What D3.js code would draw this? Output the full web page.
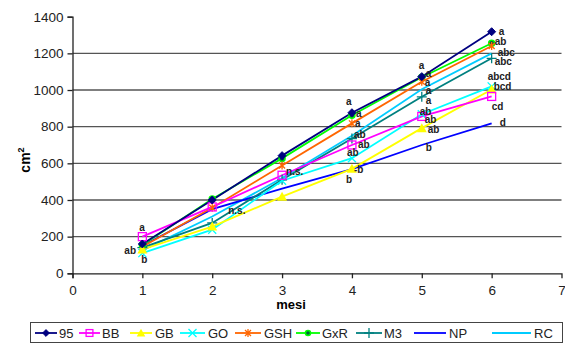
<!DOCTYPE html>
<html>
<head>
<meta charset="utf-8">
<script src="https://cdn.jsdelivr.net/npm/d3@7"></script>
<style>
body{margin:0;background:#fff;}
text{font-family:"Liberation Sans",Arial,sans-serif;}
</style>
</head>
<body>
<script>
var months = [1,2,3,4,5,6];
var names = ['95','BB','GB','GO','GSH','GxR','M3','NP','RC'];
var v95  = [160, 400, 642, 876, 1073, 1318];
var vBB  = [200, 362, 535, 700, 856, 965];
var vGB  = [130, 255, 418, 570, 792, 1003];
var vGO  = [110, 238, 505, 628, 868, 1020];
var vGSH = [145, 358, 588, 818, 1045, 1240];
var vGxR = [155, 405, 627, 862, 1070, 1255];
var vM3  = [140, 275, 510, 735, 963, 1173];
var vNP  = [150, 350, 462, 568, 700, 818];
var vRC  = [125, 310, 520, 750, 1004, 1200];
var xTicks = [0,1,2,3,4,5,6,7];
var yTicks = [0,200,400,600,800,1000,1200,1400];
// significance letters: series, month index, text, offset
var notes = [
  ['BB',0,'a',-3,-6],['95',0,'ab',-18,10],['GO',0,'b',-1,10],
  ['RC',1,'n.s.',16,-2],['BB',2,'n.s.',4,0],
  ['95',3,'a',-6,-8],['GxR',3,'a',4,2],['GSH',3,'a',3,4],['RC',3,'ab',2,2],
  ['BB',3,'ab',6,3],['GO',3,'ab',-5,-2],['NP',3,'-b',2,4],['GB',3,'b',-6,14],
  ['95',4,'a',-3,-8],['GxR',4,'a',4,0],['GSH',4,'a',3,4],['RC',4,'a',4,5],['M3',4,'a',4,7],
  ['BB',4,'ab',-2,-1],['GO',4,'ab',3,9],['GB',4,'ab',6,5],['NP',4,'b',4,6],
  ['95',5,'a',7,3],['GxR',5,'ab',3,2],['RC',5,'abc',6,3],['M3',5,'abc',3,7],
  ['GO',5,'abcd',-4,-6],['GB',5,'bcd',2,1],['BB',5,'cd',0,14],['NP',5,'d',8,3]
];

var series = [
  {name:'95', vals:v95, color:'#000080', mark:'diamond'},
  {name:'BB', vals:vBB, color:'#ff00ff', mark:'square'},
  {name:'GB', vals:vGB, color:'#ffff00', mark:'triangle'},
  {name:'GO', vals:vGO, color:'#00ffff', mark:'x'},
  {name:'GSH', vals:vGSH, color:'#ff6600', mark:'star'},
  {name:'GxR', vals:vGxR, color:'#00ff00', mark:'circle'},
  {name:'M3', vals:vM3, color:'#008080', mark:'plus'},
  {name:'NP', vals:vNP, color:'#0000ff', mark:'none'},
  {name:'RC', vals:vRC, color:'#00ccff', mark:'none'}
];
var byName = {};
series.forEach(function(s){ byName[s.name] = s; });
// legend slots (line start, line end, text start)
var legSlots = [[35,57,59],[79,100,102],[130,152,155],[180,205,208],[235,261,264],
                [296,320,322],[356,382,384],[414,446,449],[492,531,534]];

var W = 565, H = 347;
var svg = d3.select('body').append('svg').attr('width',W).attr('height',H);

var x = d3.scaleLinear().domain([0,7]).range([72.5,561.5]);
var y = d3.scaleLinear().domain([0,1400]).range([273.3,16.7]);

// grid
svg.append('g').selectAll('line').data(yTicks.filter(function(d){return d>0 && d<1400;})).enter()
  .append('line')
  .attr('x1',x(0)).attr('x2',x(7))
  .attr('y1',function(d){return y(d);}).attr('y2',function(d){return y(d);})
  .style('stroke','#555').style('stroke-width',1.3);

var yAxis = svg.append('g').attr('transform','translate('+x(0)+',0)')
  .call(d3.axisLeft(y).tickValues(yTicks).tickFormat(d3.format('d')).tickSize(5).tickPadding(4));
var xAxis = svg.append('g').attr('transform','translate(0,'+y(0)+')')
  .call(d3.axisBottom(x).tickValues(xTicks).tickFormat(d3.format('d')).tickSize(5).tickPadding(7));
[yAxis,xAxis].forEach(function(a){
  a.select('.domain').style('stroke','#222').style('stroke-width',1.3);
  a.selectAll('.tick line').style('stroke','#222').style('stroke-width',1.3);
  a.selectAll('.tick text').style('font-size','13.5px').style('fill','#222')
   .style('font-family','"Liberation Sans",Arial,sans-serif');
});
xAxis.selectAll('.tick').filter(function(d){return d===7;}).select('line').remove();

svg.append('text').attr('x',291).attr('y',309).attr('text-anchor','middle')
  .style('font-size','13px').style('font-weight','bold').text('mesi');
var ylab = svg.append('text').attr('transform','translate(30,160) rotate(-90)')
  .attr('text-anchor','middle').style('font-size','14px').style('font-weight','bold');
ylab.append('tspan').text('cm');
ylab.append('tspan').attr('dy',-6).style('font-size','9px').text('2');

function drawMark(g, type, color, size){
  var s = size || 1;
  if(type==='diamond'){
    g.append('path').attr('d','M0,'+(-4*s)+'L'+(4*s)+',0L0,'+(4*s)+'L'+(-4*s)+',0Z').style('fill',color).style('stroke',color);
  } else if(type==='square'){
    g.append('rect').attr('x',-4*s).attr('y',-4*s).attr('width',8*s).attr('height',8*s)
      .style('fill','none').style('stroke',color).style('stroke-width',1.3);
  } else if(type==='triangle'){
    g.append('path').attr('d','M0,'+(-5*s)+'L'+(5*s)+','+(4*s)+'L'+(-5*s)+','+(4*s)+'Z').style('fill',color);
  } else if(type==='x'){
    g.append('path').attr('d','M-4,-4L4,4M-4,4L4,-4').style('stroke',color).style('stroke-width',1.3);
  } else if(type==='star'){
    g.append('path').attr('d','M-3,-3L3,3M-3,3L3,-3M0,-4L0,4').style('stroke',color).style('stroke-width',1.3);
  } else if(type==='circle'){
    g.append('circle').attr('r',3*s).style('fill','#006040').style('stroke',color).style('stroke-width',1.5);
  } else if(type==='plus'){
    g.append('path').attr('d','M-5,0L5,0M0,-5L0,5').style('stroke',color).style('stroke-width',1.3);
  }
}

var line = d3.line().x(function(d,i){return x(months[i]);}).y(function(d){return y(d);});
var plot = svg.append('g');
series.slice().reverse().forEach(function(s){
  plot.append('path').datum(s.vals).attr('d',line)
    .style('fill','none').style('stroke',s.color).style('stroke-width',1.8);
});
series.slice().reverse().forEach(function(s){
  s.vals.forEach(function(v,i){
    var g = plot.append('g').attr('transform','translate('+x(months[i])+','+y(v)+')');
    drawMark(g, s.mark, s.color);
  });
});

svg.append('g').selectAll('text').data(notes).enter().append('text')
  .attr('x',function(d){return x(months[d[1]])+d[3];})
  .attr('y',function(d){return y(byName[d[0]].vals[d[1]])+d[4];})
  .style('font-size','10px').style('font-weight','bold').style('fill','#222')
  .text(function(d){return d[2];});

// legend
var leg = svg.append('g');
leg.append('rect').attr('x',30.5).attr('y',322.5).attr('width',532).attr('height',20)
  .style('fill','#fff').style('stroke','#444').style('stroke-width',1);
series.forEach(function(s,i){
  var sl = legSlots[i];
  var it = leg.append('g').attr('transform','translate(0,333)');
  it.append('line').attr('x1',sl[0]).attr('x2',sl[1]).style('stroke',s.color).style('stroke-width',1.8);
  drawMark(it.append('g').attr('transform','translate('+((sl[0]+sl[1])/2)+',0)'), s.mark, s.color, 0.85);
  it.append('text').attr('x',sl[2]).attr('y',5).style('font-size','13px').style('fill','#222').text(s.name);
});
</script>
</body>
</html>
